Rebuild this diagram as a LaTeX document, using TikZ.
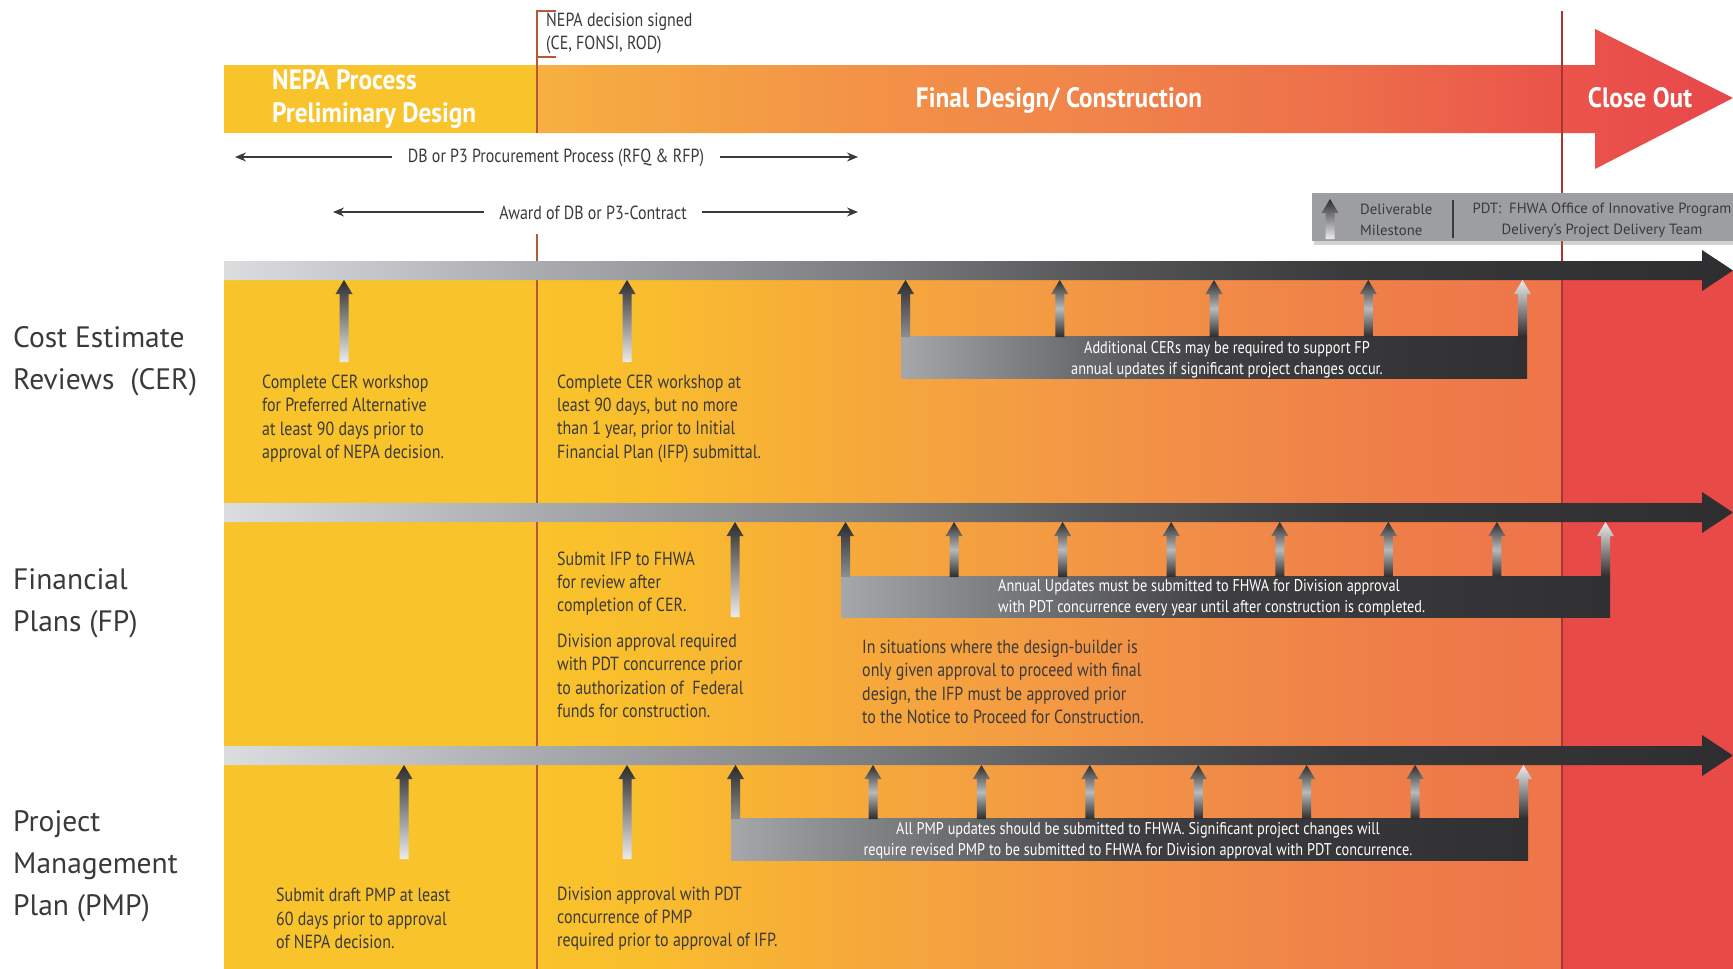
\documentclass[tikz,border=0pt]{standalone}
\usepackage{fontspec}
\setmainfont{PT Sans}
\newfontfamily\condf{PT Sans}[FakeStretch=0.84]
\newfontfamily\condbf{PT Sans Bold}[FakeStretch=0.9]
\usetikzlibrary{arrows.meta,shadows}

% palette
\definecolor{phaseyellow}{HTML}{F9C32B}
\definecolor{closered}{HTML}{E84A47}
\definecolor{arrdark}{HTML}{2B2B2D}
\definecolor{arrlight}{HTML}{ECECEC}
\definecolor{arrmid}{HTML}{B8B9BB}
\definecolor{boxleft}{HTML}{A5A7AA}
\definecolor{boxmid}{HTML}{3E3E40}
\definecolor{boxright}{HTML}{303032}
\definecolor{legendgray}{HTML}{9C9EA1}
\definecolor{txtdark}{HTML}{3A3A3C}
\definecolor{redline}{HTML}{A8372F}
\definecolor{nepabrown}{HTML}{B9573A}

% warm lane gradient (537 -> 1562)
\definecolor{lw0}{HTML}{F9C32A}
\definecolor{lw1}{HTML}{F9BD2E}
\definecolor{lw2}{HTML}{F7AE37}
\definecolor{lw3}{HTML}{F49E42}
\definecolor{lw4}{HTML}{F18D47}
\definecolor{lw5}{HTML}{EF7D49}
\definecolor{lw6}{HTML}{EE7449}
\pgfdeclarehorizontalshading{lanewarm}{100bp}{color(0bp)=(lw0); color(25bp)=(lw0); color(30.5bp)=(lw1); color(37.8bp)=(lw2); color(47.6bp)=(lw3); color(57.3bp)=(lw4); color(67.1bp)=(lw5); color(75bp)=(lw6); color(100bp)=(lw6)}

% phase banner gradient (537 -> 1733)
\definecolor{bw0}{HTML}{F6B040}
\definecolor{bw1}{HTML}{F39347}
\definecolor{bw2}{HTML}{F0844A}
\definecolor{bw3}{HTML}{ED6E4A}
\definecolor{bw4}{HTML}{EA554A}
\definecolor{bw5}{HTML}{E8474A}
\pgfdeclarehorizontalshading{bannerwarm}{100bp}{color(0bp)=(bw0); color(25bp)=(bw0); color(38bp)=(bw1); color(48.5bp)=(bw2); color(59bp)=(bw3); color(67.3bp)=(bw4); color(75bp)=(bw5); color(100bp)=(bw5)}

% steel timeline bar gradient (224 -> 1733)
\definecolor{gs0}{HTML}{DCDDDF}
\definecolor{gs1}{HTML}{A9ABAE}
\definecolor{gs2}{HTML}{7E8083}
\definecolor{gs3}{HTML}{555658}
\definecolor{gs4}{HTML}{3A3A3C}
\definecolor{gs5}{HTML}{2E2E30}
\pgfdeclarehorizontalshading{barsteel}{100bp}{color(0bp)=(gs0); color(25bp)=(gs0); color(35.4bp)=(gs1); color(45.7bp)=(gs2); color(54bp)=(gs3); color(62.3bp)=(gs4); color(75bp)=(gs5); color(100bp)=(gs5)}

% deliverable milestone arrow: x, tip y, bottom y, fill style
\newcommand\msarrow[4]{%
  \path[#4] ({#1-4.5},#3) -- ({#1-4.5},{#2+14}) -- ({#1-8.5},{#2+14}) -- (#1,#2)
    -- ({#1+8.5},{#2+14}) -- ({#1+4.5},{#2+14}) -- ({#1+4.5},#3) -- cycle;}

% timeline bar with arrow head: top y
\newcommand\timebar[1]{%
  \shade[shading=barsteel] (224,#1) -- (1702,#1) -- (1702,{#1-11}) -- (1733,{#1+9.5})
    -- (1702,{#1+30}) -- (1702,{#1+19}) -- (224,{#1+19}) -- cycle;}

\begin{document}
\begin{tikzpicture}[x=1pt,y=-1pt,
  fadeup/.style={top color=arrdark, bottom color=arrlight},
  chrome/.style={top color=arrdark, bottom color=arrdark, middle color=arrmid},
  lastone/.style={top color=arrlight, bottom color=arrdark},
  firstone/.style={top color=arrdark, bottom color=boxleft!85!black},
  groupbox/.style={left color=boxleft, right color=boxright, middle color=boxmid},
  bannertxt/.style={font=\condbf\fontsize{28}{33}\selectfont, text=white, inner sep=0pt},
  smalltxt/.style={font=\condf\fontsize{19}{23}\selectfont, text=txtdark, inner sep=0pt},
  body/.style={font=\condf\fontsize{19}{23.3}\selectfont, text=txtdark, inner sep=0pt, align=left, anchor=west},
  boxtxt/.style={font=\condf\fontsize{17}{21}\selectfont, text=white, inner sep=0pt},
  lanelabel/.style={font=\fontsize{29.5}{42}\selectfont, text=txtdark, inner sep=0pt, align=left, anchor=west},
  legendtxt/.style={font=\fontsize{14.8}{21}\selectfont, text=txtdark, inner sep=0pt},
  spanarrow/.style={draw=txtdark, line width=1.4pt, -{Stealth[length=11pt,width=9pt]}},
]
\useasboundingbox (0,0) rectangle (1733,969);
\fill[white] (0,0) rectangle (1733,969);

% phase banner
\shade[shading=bannerwarm] (537,65) -- (1595,65) -- (1595,29) -- (1733,98) -- (1595,169)
  -- (1595,133) -- (537,133) -- cycle;
\fill[phaseyellow] (224,65) rectangle (537,133);

% lane backgrounds
\fill[phaseyellow] (224,270) rectangle (537,969);
\shade[shading=lanewarm] (537,270) rectangle (1562,969);
\fill[closered] (1562,270) rectangle (1733,969);

% close-out boundary and NEPA decision marker
\draw[redline, line width=2pt] (1562,11) -- (1562,969);
\draw[nepabrown, line width=1.5pt] (556,11) -- (537,11) -- (537,133);
\draw[nepabrown, line width=1.5pt] (537,57) -- (556,57);
\draw[nepabrown, line width=1.5pt] (537,234) -- (537,969);

% banner labels
\node[bannertxt, align=left, anchor=west] (prelim) at (272,99) {NEPA Process\\Preliminary Design};
\node[bannertxt] (finaldesign) at (1059,100) {Final Design/ Construction};
\node[bannertxt] (closeout) at (1640,98) {Close Out};
\node[smalltxt, align=left, anchor=west] (decision) at (546,33.5) {NEPA decision signed\\(CE, FONSI, ROD)};

% procurement spans
\node[smalltxt, inner xsep=16pt] (proc) at (556,158) {DB or P3 Procurement Process (RFQ \& RFP)};
\coordinate (procL) at (235,157);
\coordinate (procR) at (858,157);
\draw[spanarrow] (proc.west |- procL) -- (procL);
\draw[spanarrow] (proc.east |- procR) -- (procR);
\node[smalltxt, inner xsep=15pt] (award) at (593,213) {Award of DB or P3-Contract};
\coordinate (awardL) at (333,212);
\coordinate (awardR) at (858,212);
\draw[spanarrow] (award.west |- awardL) -- (awardL);
\draw[spanarrow] (award.east |- awardR) -- (awardR);

% legend
\node[fill=legendgray, minimum width=421pt, minimum height=48pt, inner sep=0pt, anchor=north west,
  drop shadow={shadow xshift=2pt, shadow yshift=-4pt, opacity=0.35}] (legend) at (1312,193) {};
\msarrow{1330}{199}{239}{fadeup}
\node[legendtxt, align=left, anchor=west] (deliv) at (1360,220) {Deliverable\\Milestone};
\draw[txtdark, line width=1.2pt] (1453,200) -- (1453,238);
\node[legendtxt, align=center] (pdt) at (1602,220) {PDT:\ \ FHWA Office of Innovative Program\\Delivery's Project Delivery Team};

% timeline bars
\timebar{261}
\timebar{503}
\timebar{746}

% lane labels
\node[lanelabel] (cer) at (13,361) {Cost Estimate\\Reviews\ \ (CER)};
\node[lanelabel] (fp) at (13,603.5) {Financial\\Plans (FP)};
\node[lanelabel] (pmp) at (13,866.5) {Project\\Management\\Plan (PMP)};

% ---- CER lane
\msarrow{344}{280}{362}{fadeup}
\msarrow{627}{280}{362}{fadeup}
\shade[groupbox] (901,336) rectangle (1527,378);
\msarrow{905.5}{280}{337}{firstone}
\foreach \xx in {1059.75,1214,1368.25} {\msarrow{\xx}{280}{337}{chrome}}
\msarrow{1522.5}{280}{337}{lastone}
\node[boxtxt, align=center] (cerbox) at (1227,360) {Additional CERs may be required to support FP\\annual updates if significant project changes occur.};
\node[body] (cer1) at (262,418.5) {Complete CER workshop\\for Preferred Alternative\\at least 90 days prior to\\approval of NEPA decision.};
\node[body] (cer2) at (557,418.5) {Complete CER workshop at\\least 90 days, but no more\\than 1 year, prior to Initial\\Financial Plan (IFP) submittal.};

% ---- FP lane
\msarrow{735}{522}{617}{fadeup}
\shade[groupbox] (841,576) rectangle (1610,617);
\msarrow{845.5}{522}{577}{firstone}
\foreach \k in {1,...,6} {\pgfmathsetmacro\xx{845.5+\k*108.571}\msarrow{\xx}{522}{577}{chrome}}
\msarrow{1605.5}{522}{577}{lastone}
\node[boxtxt, align=left, anchor=west] (fpbox) at (998,598) {Annual Updates must be submitted to FHWA for Division approval\\with PDT concurrence every year until after construction is completed.};
\node[body] (fp1) at (557,583.5) {Submit IFP to FHWA\\for review after\\completion of CER.};
\node[body] (fp2) at (557,676) {Division approval required\\with PDT concurrence prior\\to authorization of\ \ Federal\\funds for construction.};
\node[body] (fp3) at (862,682) {In situations where the design-builder is\\only given approval to proceed with final\\design, the IFP must be approved prior\\to the Notice to Proceed for Construction.};

% ---- PMP lane
\msarrow{404}{765}{859}{fadeup}
\msarrow{627}{765}{859}{fadeup}
\shade[groupbox] (731,818) rectangle (1528,860);
\msarrow{735.5}{765}{819}{firstone}
\foreach \k in {0,...,5} {\pgfmathsetmacro\xx{873+\k*108.417}\msarrow{\xx}{765}{819}{chrome}}
\msarrow{1523.5}{765}{819}{lastone}
\node[boxtxt, align=center] (pmpbox) at (1138,841) {All PMP updates should be submitted to FHWA. Significant project changes will\\require revised PMP to be submitted to FHWA for Division approval with PDT concurrence.};
\node[body] (pmp1) at (276,918.5) {Submit draft PMP at least\\60 days prior to approval\\of NEPA decision.};
\node[body] (pmp2) at (557,918.5) {Division approval with PDT\\concurrence of PMP\\required prior to approval of IFP.};
\end{tikzpicture}
\end{document}
